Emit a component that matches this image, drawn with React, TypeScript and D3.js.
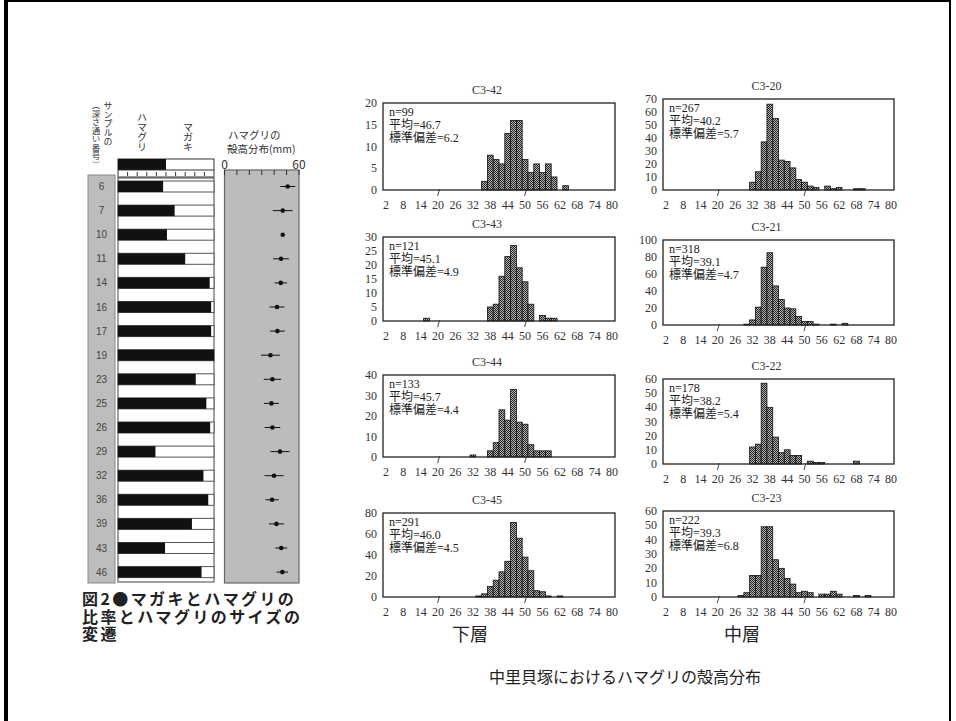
import { scaleLinear } from "d3";

// left figure: sample rows (top = shallow)
const sampleNos = [6, 7, 10, 11, 14, 16, 17, 19, 23, 25, 26, 29, 32, 36, 39, 43, 46];
const hamaguriShare = [0.47, 0.59, 0.51, 0.7, 0.955, 0.97, 0.97, 1.0, 0.81, 0.92, 0.96, 0.39, 0.89, 0.94, 0.77, 0.49, 0.87];
const shellMean = [50.9, 46.9, 46.9, 45.5, 45.3, 42.3, 42.6, 37.0, 38.6, 37.8, 38.6, 44.7, 39.9, 38.3, 41.8, 45.7, 46.6];
const shellSd = [6, 8, 0.8, 6.4, 5, 6, 6, 7.6, 7, 6, 6.3, 7.6, 7.6, 5.4, 6, 4.8, 4.6];
const legendShare = 0.5;
const sizeTicks = [0, 10, 20, 30, 40, 50, 60];
const sizeTickLabels = [0, 60];

// histograms: [bin centre (mm), count]
const binTicks = [2, 8, 14, 20, 26, 32, 38, 44, 50, 56, 62, 68, 74, 80];
const markTicks = [20, 50];
const c342 = [[36, 2], [38, 8], [40, 7], [42, 6], [44, 13], [46, 16], [48, 16], [50, 7], [52, 4], [54, 6], [56, 4], [58, 6], [60, 3], [64, 1]];
const c343 = [[16, 1], [38, 5], [40, 6], [42, 16], [44, 23], [46, 27], [48, 19], [50, 14], [52, 6], [56, 2], [58, 1], [60, 1]];
const c344 = [[32, 1], [38, 3], [40, 7], [42, 23], [44, 18], [46, 33], [48, 17], [50, 16], [52, 6], [54, 3], [56, 3], [58, 3]];
const c345 = [[34, 1], [36, 3], [38, 10], [40, 16], [42, 24], [44, 34], [46, 71], [48, 56], [50, 38], [52, 25], [54, 6], [56, 5], [58, 1], [62, 1]];
const c320 = [[32, 6], [34, 14], [36, 37], [38, 66], [40, 55], [42, 23], [44, 22], [46, 17], [48, 8], [50, 6], [52, 3], [54, 2], [58, 3], [60, 1], [62, 2], [68, 1], [70, 1]];
const c321 = [[30, 1], [32, 6], [34, 21], [36, 68], [38, 85], [40, 46], [42, 30], [44, 20], [46, 19], [48, 10], [50, 4], [52, 4], [54, 1], [60, 1], [64, 2]];
const c322 = [[32, 12], [34, 14], [36, 57], [38, 40], [40, 19], [42, 8], [44, 10], [46, 6], [48, 6], [52, 2], [54, 1], [56, 1], [68, 2]];
const c323 = [[28, 1], [30, 3], [32, 15], [34, 15], [36, 49], [38, 49], [40, 26], [42, 20], [44, 13], [46, 9], [48, 3], [50, 4], [52, 3], [56, 2], [58, 2], [60, 4], [62, 2], [68, 1], [72, 1]];

const histTitles = ["C3-42", "C3-43", "C3-44", "C3-45", "C3-20", "C3-21", "C3-22", "C3-23"];
const histBins = [c342, c343, c344, c345, c320, c321, c322, c323];
const histN = [99, 121, 133, 291, 267, 318, 178, 222];
const histMean = ["46.7", "45.1", "45.7", "46.0", "40.2", "39.1", "38.2", "39.3"];
const histSd = ["6.2", "4.9", "4.4", "4.5", "5.7", "4.7", "5.4", "6.8"];
const histYTicks = [
  [0, 5, 10, 15, 20],
  [0, 5, 10, 15, 20, 25, 30],
  [0, 10, 20, 30, 40],
  [0, 20, 40, 60, 80],
  [0, 10, 20, 30, 40, 50, 60, 70],
  [0, 20, 40, 60, 80, 100],
  [0, 10, 20, 30, 40, 50, 60],
  [0, 10, 20, 30, 40, 50, 60],
];

const SERIF = "'Liberation Serif', 'DejaVu Serif', 'Noto Sans CJK JP', serif";
const SANS = "'Noto Sans CJK JP', 'Liberation Sans', sans-serif";

// frame boxes [x0, x1, y0, y1]
const frames = [
  [383, 615, 103, 190],
  [383, 615, 237, 321],
  [383, 615, 375, 457],
  [383, 615, 513, 597],
  [663, 894, 99, 190],
  [663, 894, 240, 325],
  [663, 894, 379, 464],
  [663, 894, 511, 597],
];

function Histogram({ i }: { i: number }) {
  const [x0, x1, y0, y1] = frames[i];
  const ticks = histYTicks[i];
  const x = scaleLinear().domain([1, 81]).range([x0, x1]);
  const y = scaleLinear().domain([0, ticks[ticks.length - 1]]).range([y1, y0]);
  return (
    <g>
      <text x={(x0 + x1) / 2 - 12} y={y0 - 13} textAnchor="middle" dominantBaseline="central" fontFamily={SERIF} fontSize={12} fill="#333">
        {histTitles[i]}
      </text>
      {histBins[i].map(([c, v], k) => (
        <rect key={k} x={x(c - 1)} width={x(c + 1) - x(c - 1)} y={y(v)} height={y(0) - y(v)} fill="url(#hatch)" stroke="#111" strokeWidth={0.8} />
      ))}
      <rect x={x0} y={y0} width={x1 - x0} height={y1 - y0} fill="none" stroke="#222" strokeWidth={1.3} />
      {ticks.map((t) => (
        <text key={t} x={x0 - 6} y={y(t)} textAnchor="end" dominantBaseline="central" fontFamily={SERIF} fontSize={12} fill="#333">
          {t}
        </text>
      ))}
      {binTicks.map((t) => (
        <text key={t} x={x(t)} y={y1 + 15} textAnchor="middle" dominantBaseline="central" fontFamily={SERIF} fontSize={12} fill="#333">
          {t}
        </text>
      ))}
      {markTicks.map((t) => (
        <line key={t} x1={x(t) + 1.5} y1={y1 - 1} x2={x(t) - 0.5} y2={y1 + 6} stroke="#333" strokeWidth={0.9} />
      ))}
      <g fontFamily={SERIF} fontSize={12} fill="#222">
        <text x={x0 + 6} y={y0 + 9} dominantBaseline="central">n={histN[i]}</text>
        <text x={x0 + 6} y={y0 + 22} dominantBaseline="central">平均={histMean[i]}</text>
        <text x={x0 + 6} y={y0 + 35} dominantBaseline="central">標準偏差={histSd[i]}</text>
      </g>
    </g>
  );
}

function VText({ x, y, size, children }: { x: number; y: number; size: number; children: string }) {
  return (
    <text x={x} y={y} fontFamily={SANS} fontSize={size} fill="#333" style={{ writingMode: "vertical-rl" }}>
      {children}
    </text>
  );
}

function ShareFigure() {
  const barL = 118;
  const barR = 214;
  const share = scaleLinear().domain([0, 1]).range([barL, barR]);
  const size = scaleLinear().domain([0, 60]).range([224.5, 299]);
  const rowTop = (k: number) => 181 + k * 24.1;
  const rowH = 11;
  return (
    <g>
      {/* header */}
      <VText x={108} y={101} size={9}>サンプルの</VText>
      <VText x={96} y={101} size={8.5}>（深さ通い番号）</VText>
      <VText x={142} y={112} size={10}>ハマグリ</VText>
      <VText x={188} y={122} size={10}>マガキ</VText>
      <text x={228} y={134} dominantBaseline="central" fontFamily={SANS} fontSize={10.5} fill="#333">ハマグリの</text>
      <text x={227} y={148} dominantBaseline="central" fontFamily={SANS} fontSize={10.5} fill="#333">殻高分布(mm)</text>

      {/* legend bar with ruler */}
      <rect x={barL} y={159} width={barR - barL} height={18} fill="#fff" stroke="#333" strokeWidth={1} />
      <rect x={barL} y={159} width={share(legendShare) - barL} height={11} fill="#111" />
      <line x1={barL} x2={barR} y1={170} y2={170} stroke="#333" strokeWidth={1} />
      {[0.1, 0.2, 0.3, 0.4, 0.5, 0.6, 0.7, 0.8, 0.9].map((t) => (
        <line key={t} x1={share(t)} x2={share(t)} y1={172} y2={176} stroke="#333" strokeWidth={1} />
      ))}

      {/* sample number band */}
      <rect x={88} y={175} width={27} height={408} fill="#bdbdbd" stroke="#8a8a8a" strokeWidth={1} />
      {sampleNos.map((s, k) => (
        <text key={s} x={101.5} y={rowTop(k) + rowH / 2} textAnchor="middle" dominantBaseline="central" fontFamily="'Liberation Sans', sans-serif" fontSize={10} fill="#444">{s}</text>
      ))}

      {/* ratio bars */}
      <rect x={barL} y={178} width={barR - barL} height={404} fill="#fff" stroke="#444" strokeWidth={1} />
      {hamaguriShare.map((v, k) => (
        <g key={k}>
          <rect x={barL} y={rowTop(k)} width={barR - barL} height={rowH} fill="#fff" stroke="#555" strokeWidth={1} />
          <rect x={barL} y={rowTop(k)} width={share(v) - barL} height={rowH} fill="#111" />
        </g>
      ))}

      {/* size panel */}
      <rect x={224.5} y={170} width={74.5} height={413} fill="#bcbcbc" stroke="#666" strokeWidth={1.2} />
      {sizeTicks.map((t) => (
        <line key={t} x1={size(t)} x2={size(t)} y1={170} y2={175} stroke="#333" strokeWidth={1} />
      ))}
      {sizeTickLabels.map((t) => (
        <text key={t} x={size(t)} y={163} textAnchor="middle" dominantBaseline="central" fontFamily={SANS} fontSize={12} fill="#333">{t}</text>
      ))}
      {shellMean.map((m, k) => {
        const cy = rowTop(k) + rowH / 2;
        return (
          <g key={k}>
            <line x1={size(m - shellSd[k])} x2={size(m + shellSd[k])} y1={cy} y2={cy} stroke="#111" strokeWidth={1} />
            <circle cx={size(m)} cy={cy} r={2.3} fill="#111" />
          </g>
        );
      })}

      {/* caption */}
      <g fontFamily={SANS} fontSize={16} fontWeight={700} fill="#222" letterSpacing={2.4}>
        <text x={82} y={598} dominantBaseline="central">図2●マガキとハマグリの</text>
        <text x={82} y={615.5} dominantBaseline="central">比率とハマグリのサイズの</text>
        <text x={82} y={633} dominantBaseline="central">変遷</text>
      </g>
    </g>
  );
}

export default function App() {
  return (
    <svg width={956} height={721} viewBox="0 0 956 721" style={{ position: "absolute", left: 0, top: 0, background: "#fff" }}>
      <defs>
        <pattern id="hatch" width={2} height={2} patternUnits="userSpaceOnUse">
          <rect width={2} height={2} fill="#b4b4b4" />
          <rect width={1} height={1} fill="#222" />
          <rect x={1} y={1} width={1} height={1} fill="#222" />
        </pattern>
      </defs>
      <rect x={0} y={0} width={956} height={721} fill="#fff" />
      <line x1={6} x2={6} y1={0} y2={721} stroke="#000" strokeWidth={4} />
      <line x1={950} x2={950} y1={0} y2={721} stroke="#000" strokeWidth={2} />
      <line x1={6} x2={950} y1={1} y2={1} stroke="#000" strokeWidth={2} />

      <ShareFigure />
      {histTitles.map((_, i) => (
        <Histogram key={i} i={i} />
      ))}

      <text x={470} y={633} textAnchor="middle" dominantBaseline="central" fontFamily={SANS} fontSize={18} fill="#222">下層</text>
      <text x={742} y={633} textAnchor="middle" dominantBaseline="central" fontFamily={SANS} fontSize={18} fill="#222">中層</text>
      <text x={625} y={676} textAnchor="middle" dominantBaseline="central" fontFamily={SANS} fontSize={16} fill="#222">中里貝塚におけるハマグリの殻高分布</text>
    </svg>
  );
}
